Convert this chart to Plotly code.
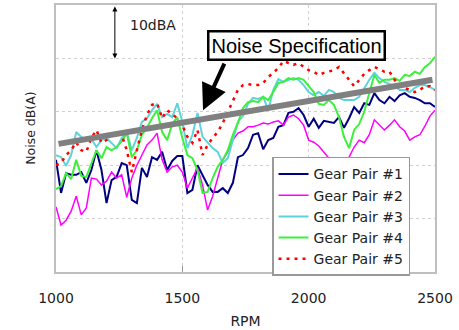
import numpy as np
import plotly.graph_objects as go

rpm_start, rpm_step, n_pts = 1000, 20, 76
rpm = [rpm_start + rpm_step * i for i in range(n_pts)]

gear1 = [61.0, 54.8, 58.5, 58.2, 58.2, 58.7, 56.7, 59.1, 62.8, 59.1,
         52.9, 57.2, 57.8, 60.4, 60.0, 53.5, 52.9, 59.5, 57.8, 61.5,
         61.0, 62.5, 59.1, 60.8, 61.7, 61.7, 54.8, 55.4, 60.0, 58.2,
         56.3, 55.0, 55.0, 55.7, 54.8, 56.7, 61.5, 61.9, 63.2, 65.7,
         66.0, 63.0, 64.7, 65.1, 67.2, 67.5, 69.8, 70.0, 70.7, 69.4,
         67.2, 68.7, 67.0, 68.3, 68.1, 67.9, 69.0, 67.0, 68.8, 70.9,
         69.8, 71.6, 71.3, 73.5, 72.2, 71.6, 72.8, 72.0, 73.1, 73.5,
         72.8, 72.6, 72.2, 71.6, 71.6, 70.9]

gear2 = [52.2, 48.8, 49.7, 51.4, 54.2, 50.7, 52.0, 57.6, 57.4, 56.3,
         57.0, 58.7, 57.6, 58.2, 54.0, 57.6, 60.0, 61.9, 63.8, 64.7,
         66.0, 61.0, 58.7, 59.7, 60.0, 58.7, 55.7, 57.6, 59.5, 56.3,
         51.6, 54.2, 57.6, 61.0, 62.5, 64.7, 66.0, 66.4, 67.2, 67.2,
         67.5, 67.9, 67.7, 68.1, 68.3, 67.5, 69.0, 69.4, 68.7, 67.5,
         64.7, 64.3, 63.6, 62.5, 61.3, 60.0, 59.5, 60.0, 61.5, 63.4,
         64.7, 64.2, 65.7, 68.5, 67.5, 66.6, 67.5, 68.5, 67.2, 66.4,
         64.7, 65.3, 65.7, 67.3, 69.2, 70.3]

gear3 = [61.9, 61.5, 59.9, 61.9, 66.2, 65.3, 64.7, 64.9, 63.4, 64.7,
         65.1, 64.2, 63.2, 65.1, 66.2, 62.8, 65.1, 68.1, 68.8, 70.3,
         71.5, 69.0, 69.6, 69.0, 71.6, 68.1, 63.2, 65.7, 69.8, 65.3,
         64.2, 63.2, 62.5, 60.4, 61.3, 64.7, 68.1, 69.2, 71.5, 72.6,
         72.4, 72.8, 70.3, 74.1, 76.1, 75.6, 76.0, 76.3, 76.0, 75.0,
         73.7, 73.1, 73.7, 73.0, 74.1, 73.7, 72.6, 72.2, 72.2, 72.2,
         72.8, 74.5, 76.0, 77.3, 76.3, 75.6, 75.2, 74.8, 74.1, 74.1,
         73.7, 74.5, 75.0, 75.0, 74.6, 74.1]

gear4 = [55.5, 56.1, 58.5, 57.4, 61.0, 58.0, 57.8, 60.4, 62.8, 61.3,
         63.4, 62.8, 63.4, 64.5, 66.0, 61.5, 62.8, 65.7, 67.0, 68.8,
         70.3, 66.2, 64.7, 67.7, 69.0, 65.1, 61.9, 61.3, 59.1, 54.8,
         55.0, 57.6, 59.7, 61.0, 62.8, 65.7, 67.9, 70.7, 71.8, 72.0,
         71.8, 72.8, 72.2, 73.7, 75.4, 75.6, 76.3, 76.0, 76.3, 76.0,
         74.8, 73.7, 71.5, 71.3, 72.2, 71.3, 69.0, 65.3, 63.2, 66.6,
         67.7, 70.0, 73.5, 76.9, 75.4, 76.0, 76.0, 76.3, 75.8, 76.9,
         76.7, 77.5, 77.1, 78.4, 79.1, 80.3]

gear5 = [60.0, 60.4, 61.9, 62.8, 64.3, 62.8, 62.5, 65.1, 66.6, 64.2,
         64.7, 65.7, 66.0, 65.7, 62.8, 58.7, 62.8, 66.6, 69.4, 71.3,
         71.6, 68.8, 70.3, 69.6, 68.8, 67.5, 65.3, 64.2, 66.6, 61.9,
         63.8, 65.1, 66.2, 67.9, 70.0, 72.2, 74.1, 75.0, 75.2, 75.0,
         75.0, 75.4, 76.5, 77.3, 78.2, 79.5, 79.1, 78.8, 79.1, 78.4,
         77.8, 77.5, 76.9, 77.3, 77.5, 77.8, 78.4, 77.3, 76.0, 74.8,
         76.0, 77.1, 77.8, 78.4, 78.0, 77.5, 77.5, 76.0, 74.8, 74.5,
         74.1, 73.7, 74.1, 74.8, 74.8, 74.1]

spec_rpm = [1010, 2490]
spec_db = [64.0, 76.0]

series_names = ["Gear Pair #1", "Gear Pair #2", "Gear Pair #3", "Gear Pair #4", "Gear Pair #5"]
series_vals = [gear1, gear2, gear3, gear4, gear5]
styles = [
    dict(color="#000080", width=2),
    dict(color="#ff00ff", width=1.5),
    dict(color="#5fd3dc", width=2),
    dict(color="#3cf03c", width=2),
    dict(color="#ff0000", width=2.5, dash="3px,5px"),
]

fig = go.Figure()
for name, vals, st in zip(series_names, series_vals, styles):
    fig.add_trace(go.Scatter(x=rpm, y=vals, mode="lines", name=name, line=st))

fig.add_trace(go.Scatter(x=spec_rpm, y=spec_db, mode="lines", showlegend=False,
                         line=dict(color="#808080", width=6)))

font_main = "DejaVu Sans"

fig.update_layout(
    width=459, height=330,
    margin=dict(l=56, r=24, t=5, b=58, autoexpand=False),
    paper_bgcolor="white", plot_bgcolor="white",
    font=dict(family=font_main, size=14, color="#222"),
    showlegend=True,
    legend=dict(x=0.570, y=0.431, xanchor="left", yanchor="top",
                bgcolor="white", bordercolor="#999999", borderwidth=1.5,
                font=dict(family=font_main, size=14, color="#222"),
                tracegroupgap=0),
    xaxis=dict(range=[1000, 2500], tickvals=[1000, 1500, 2000, 2500],
               ticks="inside", ticklen=6, tickcolor="#999999",
               showgrid=True, gridcolor="#d0d0d0", griddash="dot", gridwidth=1,
               showline=True, linecolor="#bfbfbf", linewidth=1.5, mirror=True,
               zeroline=False, ticklabelstandoff=12,
               title=dict(text="RPM", font=dict(size=14), standoff=12)),
    yaxis=dict(range=[40, 90], dtick=10, showticklabels=False,
               showgrid=True, gridcolor="#d0d0d0", griddash="dot", gridwidth=1,
               showline=True, linecolor="#bfbfbf", linewidth=1.5, mirror=True,
               zeroline=False, ticks=""),
)

# y-axis title (placed slightly above centre, as in the original)
fig.add_annotation(x=-0.068, y=0.537, xref="paper", yref="paper", text="Noise dB(A)",
                   textangle=-90, showarrow=False, xanchor="center", yanchor="middle",
                   font=dict(size=12.5, color="#222"))

# 10 dBA scale arrow
fig.add_annotation(x=1233, y=80, ax=1233, ay=90, xref="x", yref="y", axref="x", ayref="y",
                   text="", showarrow=True, arrowhead=2, arrowside="end+start",
                   arrowsize=1, arrowwidth=1, arrowcolor="#000")
fig.add_annotation(x=1285, y=86.3, xref="x", yref="y", text="10dBA", showarrow=False,
                   xanchor="left", yanchor="middle", font=dict(size=14, color="#222"))

# Noise spec arrow + box
fig.add_annotation(x=1582, y=70.3, xref="x", yref="y", ax=22, ay=-48,
                   text="", showarrow=True, arrowhead=2, arrowsize=1.3,
                   arrowwidth=4, arrowcolor="#000")
fig.add_annotation(x=0.6346, y=0.850, xref="paper", yref="paper",
                   text="Noise Specification", showarrow=False,
                   font=dict(family="Liberation Sans", size=20, color="#000"),
                   bgcolor="white", bordercolor="#000", borderwidth=2.5, borderpad=2,
                   xanchor="center", yanchor="middle")

fig.write_html("out.html", config={"displayModeBar": False},
               post_script="document.body.style.margin='0';")
